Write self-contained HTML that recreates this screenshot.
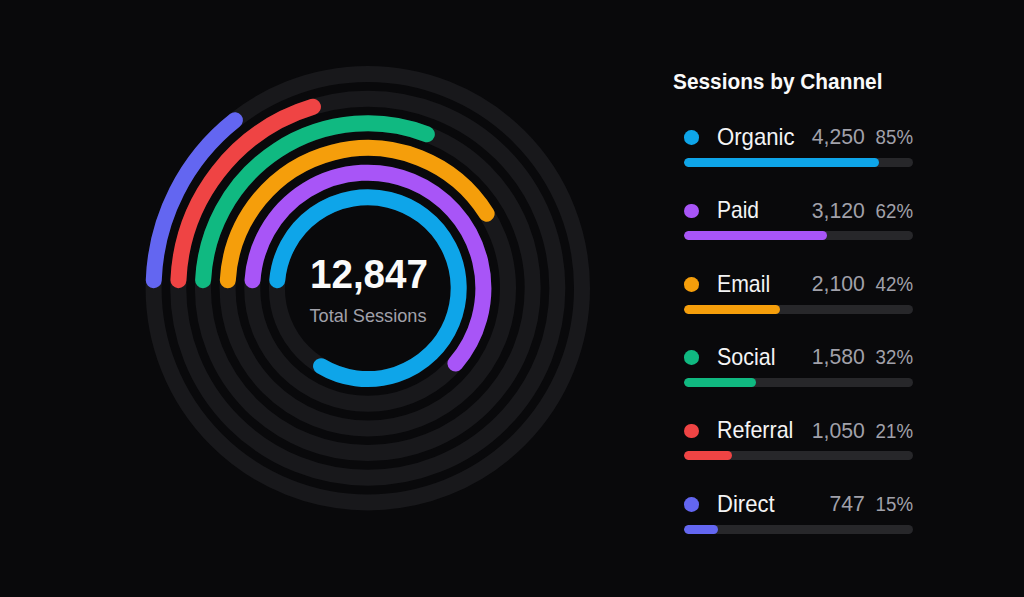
<!DOCTYPE html>
<html><head><meta charset="utf-8"><style>
html,body{margin:0;padding:0;}
body{width:1024px;height:597px;background:#09090b;position:relative;overflow:hidden;font-family:"Liberation Sans",sans-serif;}
svg{position:absolute;left:0;top:0;}
.title{position:absolute;left:673.3px;top:70.12px;font-size:22.7px;font-weight:bold;color:#fafafa;line-height:1;white-space:nowrap;transform-origin:0 0;transform:scaleX(0.918);}
.big{position:absolute;left:268.75px;width:200px;text-align:center;top:254.26px;font-size:40.4px;font-weight:bold;color:#fafafa;line-height:1;transform:scaleX(0.956);transform-origin:100px 0;}
.sub{position:absolute;left:268px;width:200px;text-align:center;top:306.65px;font-size:18.4px;color:#a1a1aa;line-height:1;transform:scaleX(0.986);transform-origin:100px 0;}
.dot{position:absolute;left:684.4px;width:14.6px;height:14.6px;border-radius:50%;}
.lab{position:absolute;left:716.5px;transform-origin:0 0;font-size:23.8px;color:#f4f4f5;line-height:1;white-space:nowrap;}
.val{position:absolute;right:159.5px;transform-origin:100% 0;font-size:22.7px;color:#a1a1aa;line-height:1;white-space:nowrap;}
.pct{position:absolute;right:111px;transform-origin:100% 0;transform:scaleX(0.935);font-size:20.0px;color:#a1a1aa;line-height:1;white-space:nowrap;}
.trk{position:absolute;left:684px;width:229px;height:9px;border-radius:5px;background:#27272a;overflow:hidden;}
.fil{height:100%;border-radius:5px;}
</style></head><body>
<svg width="1024" height="597" viewBox="0 0 1024 597">
<circle cx="367.8" cy="288.2" r="90.90" fill="none" stroke="#18181b" stroke-width="16"/>
<circle cx="367.8" cy="288.2" r="115.56" fill="none" stroke="#18181b" stroke-width="16"/>
<circle cx="367.8" cy="288.2" r="140.22" fill="none" stroke="#18181b" stroke-width="16"/>
<circle cx="367.8" cy="288.2" r="164.88" fill="none" stroke="#18181b" stroke-width="16"/>
<circle cx="367.8" cy="288.2" r="189.54" fill="none" stroke="#18181b" stroke-width="16"/>
<circle cx="367.8" cy="288.2" r="214.20" fill="none" stroke="#18181b" stroke-width="16"/>
<path d="M277.25 280.21 A90.90 90.90 0 1 1 321.04 366.15" fill="none" stroke="#0ea5e9" stroke-width="16" stroke-linecap="round"/>
<path d="M252.52 280.21 A115.56 115.56 0 1 1 455.44 363.52" fill="none" stroke="#a855f7" stroke-width="16" stroke-linecap="round"/>
<path d="M227.81 280.20 A140.22 140.22 0 0 1 486.62 213.75" fill="none" stroke="#f59e0b" stroke-width="16" stroke-linecap="round"/>
<path d="M203.11 280.20 A164.88 164.88 0 0 1 426.83 134.25" fill="none" stroke="#10b981" stroke-width="16" stroke-linecap="round"/>
<path d="M178.43 280.20 A189.54 189.54 0 0 1 312.96 106.77" fill="none" stroke="#ef4444" stroke-width="16" stroke-linecap="round"/>
<path d="M153.75 280.20 A214.20 214.20 0 0 1 234.88 120.23" fill="none" stroke="#6366f1" stroke-width="16" stroke-linecap="round"/>
</svg>
<div class="big">12,847</div>
<div class="sub">Total Sessions</div>
<div class="title">Sessions by Channel</div>
<div class="dot" style="top:130.15px;background:#0ea5e9"></div>
<div class="lab" style="top:124.89px;transform:scaleX(0.9306)">Organic</div>
<div class="val" style="top:125.12px;transform:scaleX(0.935)">4,250</div>
<div class="pct" style="top:127.20px">85%</div>
<div class="trk" style="top:157.85px"><div class="fil" style="width:194.65px;background:#0ea5e9"></div></div>
<div class="dot" style="top:203.55px;background:#a855f7"></div>
<div class="lab" style="top:198.29px;transform:scaleX(0.8831)">Paid</div>
<div class="val" style="top:198.52px;transform:scaleX(0.935)">3,120</div>
<div class="pct" style="top:200.60px">62%</div>
<div class="trk" style="top:231.25px"><div class="fil" style="width:142.90px;background:#a855f7"></div></div>
<div class="dot" style="top:276.95px;background:#f59e0b"></div>
<div class="lab" style="top:271.69px;transform:scaleX(0.8926)">Email</div>
<div class="val" style="top:271.92px;transform:scaleX(0.935)">2,100</div>
<div class="pct" style="top:274.00px">42%</div>
<div class="trk" style="top:304.65px"><div class="fil" style="width:96.18px;background:#f59e0b"></div></div>
<div class="dot" style="top:350.35px;background:#10b981"></div>
<div class="lab" style="top:345.09px;transform:scaleX(0.9021)">Social</div>
<div class="val" style="top:345.32px;transform:scaleX(0.935)">1,580</div>
<div class="pct" style="top:347.40px">32%</div>
<div class="trk" style="top:378.05px"><div class="fil" style="width:72.36px;background:#10b981"></div></div>
<div class="dot" style="top:423.75px;background:#ef4444"></div>
<div class="lab" style="top:418.49px;transform:scaleX(0.9021)">Referral</div>
<div class="val" style="top:418.72px;transform:scaleX(0.935)">1,050</div>
<div class="pct" style="top:420.80px">21%</div>
<div class="trk" style="top:451.45px"><div class="fil" style="width:48.09px;background:#ef4444"></div></div>
<div class="dot" style="top:497.15px;background:#6366f1"></div>
<div class="lab" style="top:491.89px;transform:scaleX(0.9258)">Direct</div>
<div class="val" style="top:492.12px;transform:scaleX(0.935)">747</div>
<div class="pct" style="top:494.20px">15%</div>
<div class="trk" style="top:524.85px"><div class="fil" style="width:34.21px;background:#6366f1"></div></div>
</body></html>
